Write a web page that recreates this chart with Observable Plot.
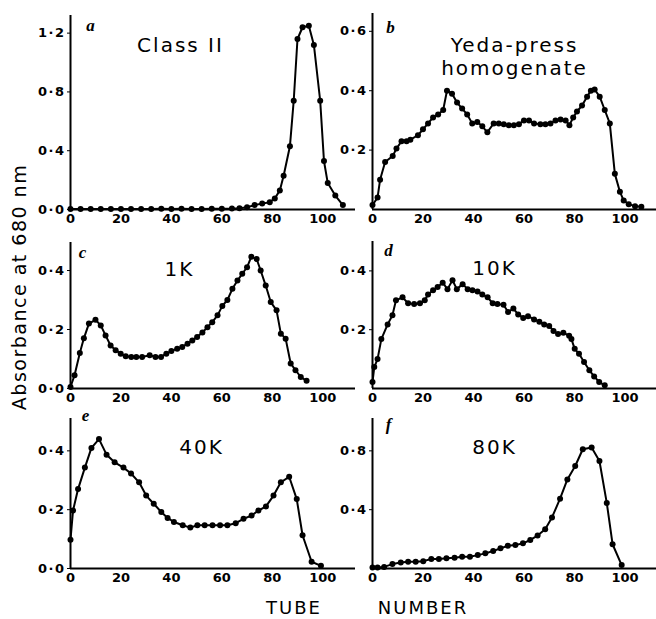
<!DOCTYPE html>
<html>
<head>
<meta charset="utf-8">
<script src="https://cdn.jsdelivr.net/npm/d3@7"></script>
<script src="https://cdn.jsdelivr.net/npm/@observablehq/plot@0.6"></script>
<style>
  html, body { margin: 0; padding: 0; background: white; }
  #chart { position: relative; width: 656px; height: 619px; background: white; overflow: hidden; }
  #chart svg g[aria-label^="y-axis"] text { letter-spacing: 1.5px; }
  .lab { position: absolute; font-family: "DejaVu Sans", sans-serif; color: black; white-space: nowrap; line-height: 1; }
</style>
</head>
<body>
<div id="chart"></div>
<script>
// ---- Data ----
const xTicks = [0, 20, 40, 60, 80, 100];
const panelLetters = ["a", "b", "c", "d", "e", "f"];
const panelTitles = ["Class II", "Yeda-press\nhomogenate", "1K", "10K", "40K", "80K"];
const yAxisTitle = "Absorbance at 680 nm";
const xAxisWords = ["TUBE", "NUMBER"];

const yTicksA = [0, 0.4, 0.8, 1.2];
const yTicksB = [0.2, 0.4, 0.6];
const yTicksC = [0, 0.2, 0.4];
const yTicksD = [0.2, 0.4];
const yTicksE = [0, 0.2, 0.4];
const yTicksF = [0.4, 0.8];

// (a) Class II
const tubeA = [0, 4, 8, 12, 16, 20, 24, 28, 32, 36, 40, 44, 48, 52, 56, 60, 64, 67, 70, 73, 76, 79, 81, 83, 84.5, 87, 88.5, 90, 92, 94.5, 96.5, 99, 100.5, 102, 105, 108];
const absA  = [0.004, 0.004, 0.004, 0.004, 0.004, 0.004, 0.004, 0.004, 0.004, 0.005, 0.004, 0.005, 0.004, 0.004, 0.005, 0.005, 0.006, 0.009, 0.015, 0.03, 0.04, 0.05, 0.075, 0.13, 0.23, 0.43, 0.74, 1.16, 1.24, 1.25, 1.12, 0.74, 0.33, 0.18, 0.095, 0.03];

// (b) Yeda-press homogenate
const tubeB = [0, 2, 3, 5, 8, 9.5, 11.5, 13.5, 15, 18, 20, 22, 24, 26, 28, 29.5, 31.5, 33.5, 35.5, 37.5, 39.5, 41.5, 43.5, 45.5, 48, 50, 52, 54, 56, 58, 60, 62, 64, 66.5, 68.5, 70.5, 72.5, 74.5, 76.5, 78, 79.5, 81, 83, 85, 86.5, 88, 90, 92, 94, 96, 98, 99.5, 101.5, 104, 106.5];
const absB  = [0.015, 0.04, 0.10, 0.16, 0.18, 0.205, 0.23, 0.23, 0.235, 0.25, 0.27, 0.29, 0.31, 0.32, 0.335, 0.40, 0.39, 0.36, 0.34, 0.32, 0.29, 0.295, 0.28, 0.26, 0.29, 0.29, 0.287, 0.284, 0.284, 0.287, 0.30, 0.30, 0.29, 0.287, 0.287, 0.29, 0.30, 0.303, 0.30, 0.284, 0.31, 0.33, 0.35, 0.38, 0.40, 0.404, 0.38, 0.335, 0.29, 0.12, 0.06, 0.03, 0.018, 0.011, 0.009];

// (c) 1K
const tubeC = [0, 1.6, 3.7, 5.3, 7.3, 9.9, 12, 13.9, 15.9, 17.9, 19.9, 21.9, 24.1, 26.1, 28.4, 31.4, 33.7, 35.9, 38, 40, 42.3, 44.3, 46.4, 48.3, 50.2, 52.3, 54.3, 56.2, 58.3, 60.2, 62.2, 64.2, 66.2, 68.1, 70, 71.7, 73.8, 75.4, 77.4, 79.4, 81.7, 83.4, 85.3, 87.3, 89.2, 91.3, 93.6];
const absC  = [0.005, 0.045, 0.12, 0.17, 0.22, 0.233, 0.214, 0.18, 0.146, 0.13, 0.118, 0.109, 0.107, 0.107, 0.107, 0.113, 0.107, 0.107, 0.118, 0.127, 0.135, 0.141, 0.152, 0.163, 0.175, 0.19, 0.208, 0.225, 0.248, 0.28, 0.30, 0.338, 0.366, 0.389, 0.411, 0.447, 0.439, 0.40, 0.349, 0.293, 0.265, 0.186, 0.169, 0.085, 0.062, 0.039, 0.026];

// (d) 10K
const tubeD = [0, 0.7, 2, 3.5, 6, 7.9, 9.3, 11.9, 14.1, 16.5, 18.8, 20.7, 22, 24, 25.8, 27.8, 29.7, 31.7, 33.4, 35.7, 37.7, 39.6, 41.6, 43.5, 45.6, 47.6, 49.5, 51.9, 53.7, 55.8, 57.7, 59.7, 61.6, 64, 66.1, 68, 70, 71.7, 73.5, 75.6, 77.9, 78.8, 80.1, 81.8, 83.8, 85.9, 87.8, 89.8, 92];
const absD  = [0.022, 0.073, 0.10, 0.168, 0.218, 0.249, 0.30, 0.31, 0.29, 0.287, 0.29, 0.30, 0.32, 0.334, 0.345, 0.36, 0.338, 0.368, 0.338, 0.355, 0.338, 0.334, 0.33, 0.32, 0.31, 0.29, 0.287, 0.285, 0.26, 0.272, 0.252, 0.24, 0.246, 0.235, 0.227, 0.218, 0.213, 0.196, 0.185, 0.19, 0.179, 0.168, 0.135, 0.118, 0.09, 0.062, 0.041, 0.022, 0.011];

// (e) 40K
const tubeE = [0, 1, 3, 5.7, 8.3, 11.3, 14.3, 17.5, 21, 24, 27.2, 30, 33, 36, 38.5, 41, 44.5, 47.5, 50.3, 53.2, 56.3, 59.3, 62.2, 65.5, 68.6, 71.8, 74.5, 77.5, 80.5, 83.4, 86.7, 89.7, 92, 95.6, 99.3];
const absE  = [0.098, 0.197, 0.27, 0.343, 0.41, 0.44, 0.387, 0.361, 0.343, 0.323, 0.293, 0.248, 0.22, 0.192, 0.172, 0.158, 0.147, 0.139, 0.147, 0.147, 0.147, 0.147, 0.147, 0.154, 0.169, 0.18, 0.197, 0.211, 0.248, 0.293, 0.312, 0.236, 0.113, 0.023, 0.009];

// (f) 80K
const tubeF = [0, 2, 4.6, 7.9, 11.2, 14.1, 17.1, 20.1, 23.3, 26.3, 29.3, 32.5, 35.5, 38.6, 41.7, 44.7, 47.8, 50.7, 53.6, 56.6, 59.6, 62.5, 65.4, 68.4, 71.1, 74.3, 77.2, 80.3, 83.3, 86.8, 89.9, 92.8, 95.1, 98.7];
const absF  = [0.007, 0.007, 0.011, 0.03, 0.041, 0.046, 0.046, 0.05, 0.064, 0.064, 0.069, 0.073, 0.08, 0.08, 0.091, 0.103, 0.119, 0.137, 0.155, 0.16, 0.171, 0.194, 0.224, 0.267, 0.347, 0.475, 0.606, 0.697, 0.811, 0.823, 0.731, 0.446, 0.165, 0.023];

// ---- Drawing ----
const chart = document.getElementById("chart");
const fmt = d => d.toFixed(1).replace(".", "\u00b7");

function panel(cfg) {
  const data = cfg.tube.map((t, i) => ({tube: t, abs: cfg.abs[i]}));
  const svg = Plot.plot({
    width: cfg.width,
    height: cfg.height,
    marginLeft: cfg.mL,
    marginRight: cfg.mR,
    marginTop: cfg.mT,
    marginBottom: cfg.mB,
    style: {
      fontFamily: "DejaVu Sans",
      fontSize: "13px",
      fontWeight: "bold",
      color: "black",
      background: "transparent",
      overflow: "visible",
      position: "absolute",
      left: cfg.left + "px",
      top: cfg.top + "px"
    },
    x: {domain: [0, cfg.xMax], ticks: xTicks, tickSize: 0, tickPadding: 4, tickFormat: d => String(d), label: null},
    y: {domain: [0, cfg.yMax], ticks: cfg.yTicks, tickSize: 3, tickPadding: 2, tickFormat: fmt, label: null},
    marks: [
      Plot.text([cfg.title], {
        text: d => d, frameAnchor: "top-left", dx: cfg.tDx, dy: cfg.tDy,
        textAnchor: "middle", lineAnchor: "middle", lineHeight: 1.12,
        fontFamily: "DejaVu Sans", fontSize: 20, fontWeight: "normal", fill: "black"
      }),
      Plot.text([cfg.letter], {
        text: d => d, frameAnchor: "top-left", dx: cfg.lDx, dy: cfg.lDy,
        textAnchor: "middle", lineAnchor: "middle",
        fontFamily: "Liberation Serif", fontSize: 17, fontWeight: "bold", fontStyle: "italic", fill: "black"
      }),
      Plot.ruleY([0], {stroke: "black", strokeWidth: 2}),
      Plot.ruleX([0], {stroke: "black", strokeWidth: 2}),
      Plot.line(data, {x: "tube", y: "abs", stroke: "black", strokeWidth: 2}),
      Plot.dot(data, {x: "tube", y: "abs", r: 3, fill: "black", stroke: "none"})
    ]
  });
  const groups = svg.querySelectorAll('g[aria-label="text"]');
  if (groups[0]) groups[0].style.letterSpacing = "2px";
  chart.appendChild(svg);
}

const L = {left: 0, width: 360, mL: 70, mR: 5, xMax: 113};
const R = {left: 320, width: 336, mL: 52, mR: 0, xMax: 112.5};

panel({...L, top: 0, height: 239, mT: 15, mB: 30, tube: tubeA, abs: absA, yMax: 1.32, yTicks: yTicksA,
  title: panelTitles[0], letter: panelLetters[0], tDx: 110, tDy: 29, lDx: 20, lDy: 10});
panel({...R, top: 0, height: 239, mT: 13, mB: 30, tube: tubeB, abs: absB, yMax: 0.66, yTicks: yTicksB,
  title: panelTitles[1], letter: panelLetters[1], tDx: 142, tDy: 43, lDx: 18, lDy: 14});
panel({...L, top: 220, height: 198, mT: 22, mB: 30, tube: tubeC, abs: absC, yMax: 0.495, yTicks: yTicksC,
  title: panelTitles[2], letter: panelLetters[2], tDx: 109, tDy: 26, lDx: 12, lDy: 10});
panel({...R, top: 220, height: 198, mT: 21, mB: 30, tube: tubeD, abs: absD, yMax: 0.5, yTicks: yTicksD,
  title: panelTitles[3], letter: panelLetters[3], tDx: 122, tDy: 26, lDx: 16, lDy: 9});
panel({...L, top: 400, height: 198, mT: 18, mB: 30, tube: tubeE, abs: absE, yMax: 0.51, yTicks: yTicksE,
  title: panelTitles[4], letter: panelLetters[4], tDx: 131, tDy: 28, lDx: 15, lDy: -3});
panel({...R, top: 400, height: 198, mT: 18, mB: 30, tube: tubeF, abs: absF, yMax: 1.02, yTicks: yTicksF,
  title: panelTitles[5], letter: panelLetters[5], tDx: 122, tDy: 28, lDx: 16, lDy: 6});

// Axis titles
const yl = document.createElement("div");
yl.className = "lab";
yl.textContent = yAxisTitle;
Object.assign(yl.style, {left: "19px", top: "287px", fontSize: "19px", letterSpacing: "1.5px",
  transform: "translate(-50%, -50%) rotate(-90deg)"});
chart.appendChild(yl);

const xCenters = [294, 423];
xAxisWords.forEach((w, i) => {
  const el = document.createElement("div");
  el.className = "lab";
  el.textContent = w;
  Object.assign(el.style, {left: xCenters[i] + "px", top: "608px", fontSize: "18px", letterSpacing: "2px",
    transform: "translate(-50%, -50%)"});
  chart.appendChild(el);
});
</script>
</body>
</html>
